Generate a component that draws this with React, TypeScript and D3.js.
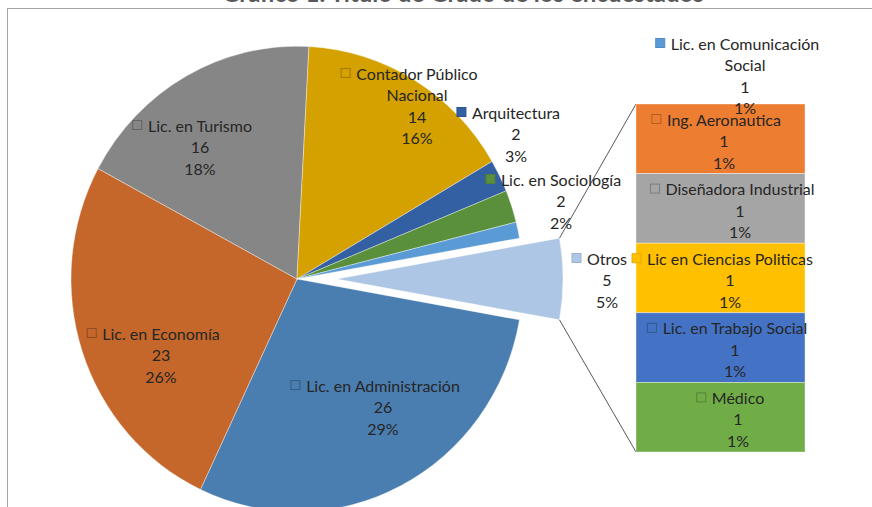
import React from 'react';
import * as d3 from 'd3';

// ---------- DATA ----------
const mainCategories = [
  'Lic. en Administración',
  'Lic. en Economía',
  'Lic. en Turismo',
  'Contador Público Nacional',
  'Arquitectura',
  'Lic. en Sociología',
  'Lic. en Comunicación Social',
  'Otros',
];
const mainValues = [26, 23, 16, 14, 2, 2, 1, 5];
const mainPercents = ['29%', '26%', '18%', '16%', '3%', '2%', '1%', '5%'];

const otherCategories = [
  'Ing. Aeronautica',
  'Diseñadora Industrial',
  'Lic en Ciencias Politicas',
  'Lic. en Trabajo Social',
  'Médico',
];
const otherValues = [1, 1, 1, 1, 1];
const otherPercents = ['1%', '1%', '1%', '1%', '1%'];

const titleText = 'Gráfico 1. Título de Grado de los encuestados';

// ---------- STYLE / LAYOUT ----------
const W = 872;
const H = 507;
const FONT = 'Lato, "Open Sans", sans-serif';
const FS = 16;
const LINE = 21.5;

const mainColors = ['#4a7db0', '#c5662a', '#868686', '#d4a100', '#335fa3', '#5a8f3c', '#5b9bd5', '#adc6e5'];
const otherColors = ['#ed7d31', '#a5a5a5', '#ffc000', '#4472c4', '#70ad47'];

// label line wrapping and anchor (text center x, first line center y)
const mainLabelLayout = [
  { lines: ['Lic. en Administración'], x: 383, y: 385, filled: false },
  { lines: ['Lic. en Economía'], x: 161, y: 333, filled: false },
  { lines: ['Lic. en Turismo'], x: 200, y: 125, filled: false },
  { lines: ['Contador Público', 'Nacional'], x: 417, y: 73, filled: false },
  { lines: ['Arquitectura'], x: 516, y: 112, filled: true },
  { lines: ['Lic. en Sociología'], x: 561, y: 179, filled: true },
  { lines: ['Lic. en Comunicación', 'Social'], x: 745, y: 43, filled: true },
  { lines: ['Otros'], x: 607, y: 258, filled: true },
];
const otherLabelLayout = [
  { x: 724, filled: false },
  { x: 740, filled: false },
  { x: 730, filled: true },
  { x: 735, filled: false },
  { x: 738, filled: false },
];

const CX = 297;
const CY = 279;
const R = 226;
const SY = 1.03; // slight vertical stretch as in the reference
const EXPLODE = 40;
const BAR = { x0: 636, x1: 805, y0: 104, y1: 452 };

let measureCtx: CanvasRenderingContext2D | null = null;
function textWidth(s: string): number {
  if (!measureCtx) {
    const c = document.createElement('canvas');
    measureCtx = c.getContext('2d');
  }
  if (!measureCtx) return s.length * 7.2;
  measureCtx.font = `${FS}px ${FONT}`;
  return measureCtx.measureText(s).width;
}

function Label({ x, y, lines, color, filled }: { x: number; y: number; lines: string[]; color: string; filled: boolean }) {
  const w = textWidth(lines[0]);
  const sq = 9;
  const sx = x - w / 2 - sq - 6;
  return (
    <g>
      <rect
        x={sx}
        y={y - sq / 2}
        width={sq}
        height={sq}
        fill={filled ? color : 'none'}
        stroke={filled ? d3.color(color)!.darker(0.3).toString() : 'rgba(0,0,0,0.25)'}
        strokeWidth={1}
      />
      {lines.map((l, i) => (
        <text key={i} x={x} y={y + i * LINE} textAnchor="middle" dominantBaseline="central" fontFamily={FONT} fontSize={FS} fill="#262626">
          {l}
        </text>
      ))}
    </g>
  );
}

export default function App() {
  const total = d3.sum(mainValues);
  const otrosIdx = mainValues.length - 1;
  const otrosAngle = (mainValues[otrosIdx] / total) * 2 * Math.PI;
  const start = Math.PI / 2 + otrosAngle / 2;
  const pie = d3
    .pie<number>()
    .sort(null)
    .value((d) => d)
    .startAngle(start)
    .endAngle(start + 2 * Math.PI);
  const arcs = pie(mainValues);
  const arcGen = d3.arc<d3.PieArcDatum<number>>().innerRadius(0).outerRadius(R);

  const otrosArc = arcs[otrosIdx];
  const mid = (otrosArc.startAngle + otrosArc.endAngle) / 2;
  const ox = Math.sin(mid) * EXPLODE;
  const oy = -Math.cos(mid) * EXPLODE;
  const corner = (ang: number) => ({
    x: CX + ox + Math.sin(ang) * R,
    y: CY + (oy - Math.cos(ang) * R) * SY,
  });
  const cA = corner(otrosArc.startAngle);
  const cB = corner(otrosArc.endAngle);
  const topCorner = cA.y < cB.y ? cA : cB;
  const botCorner = cA.y < cB.y ? cB : cA;

  const otherTotal = d3.sum(otherValues);
  const yScale = d3.scaleLinear().domain([0, otherTotal]).range([BAR.y0, BAR.y1]);
  const cum = d3.cumsum(otherValues);

  return (
    <svg width={W} height={H} style={{ position: 'absolute', left: 0, top: 0, background: '#fff' }}>
      <rect x={0} y={0} width={W} height={H} fill="#fff" />
      <text x={463} y={1.5} textAnchor="middle" fontFamily={FONT} fontSize={24} fontWeight="bold" fill="#595959">
        {titleText}
      </text>
      <rect x={7.5} y={8.5} width={W + 20} height={H + 20} fill="none" stroke="#a6a6a6" strokeWidth={1} />

      {/* main pie */}
      <g transform={`translate(${CX},${CY}) scale(1,${SY})`}>
        {arcs.map((a, i) => {
          const isOtros = i === otrosIdx;
          return (
            <path
              key={i}
              d={arcGen(a) || ''}
              transform={isOtros ? `translate(${ox},${oy})` : undefined}
              fill={mainColors[i]}
              stroke="rgba(255,255,255,0.5)"
              strokeWidth={0.75}
            />
          );
        })}
      </g>

      {/* connector lines */}
      <line x1={topCorner.x} y1={topCorner.y} x2={BAR.x0} y2={BAR.y0} stroke="#595959" strokeWidth={1} />
      <line x1={botCorner.x} y1={botCorner.y} x2={BAR.x0} y2={BAR.y1} stroke="#595959" strokeWidth={1} />

      {/* secondary bar */}
      {otherValues.map((v, i) => {
        const y0 = yScale(cum[i] - v);
        const y1 = yScale(cum[i]);
        return (
          <rect
            key={i}
            x={BAR.x0}
            y={y0}
            width={BAR.x1 - BAR.x0}
            height={y1 - y0}
            fill={otherColors[i]}
            stroke="rgba(255,255,255,0.5)"
            strokeWidth={0.75}
          />
        );
      })}

      {/* main labels */}
      {mainLabelLayout.map((L, i) => (
        <Label
          key={i}
          x={L.x}
          y={L.y}
          lines={[...L.lines, String(mainValues[i]), mainPercents[i]]}
          color={mainColors[i]}
          filled={L.filled}
        />
      ))}

      {/* secondary labels */}
      {otherValues.map((v, i) => {
        const y0 = yScale(cum[i] - v);
        return (
          <Label
            key={i}
            x={otherLabelLayout[i].x}
            y={y0 + 15}
            lines={[otherCategories[i], String(v), otherPercents[i]]}
            color={otherColors[i]}
            filled={otherLabelLayout[i].filled}
          />
        );
      })}
    </svg>
  );
}
